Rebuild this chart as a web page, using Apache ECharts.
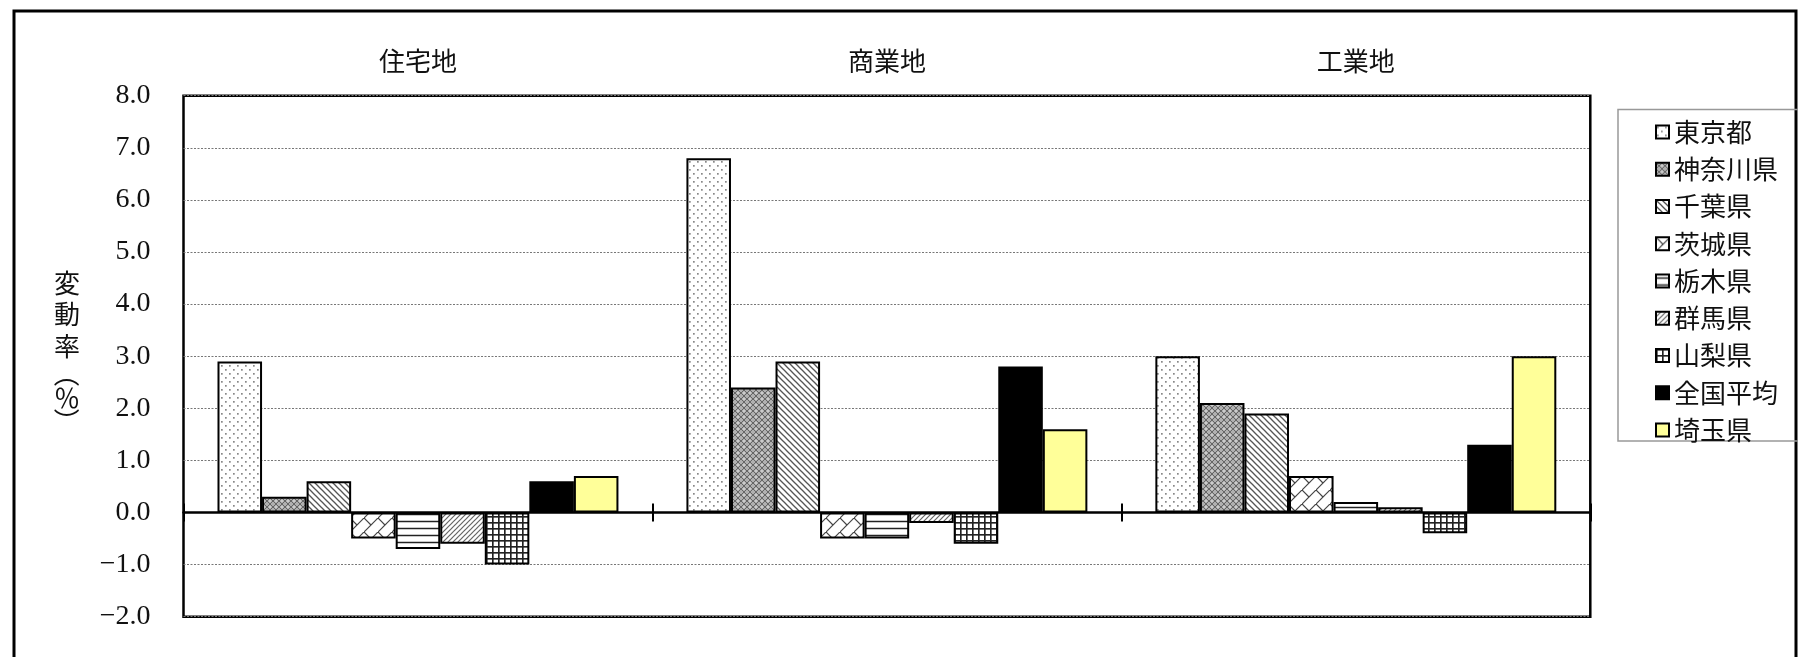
<!DOCTYPE html>
<html>
<head>
<meta charset="utf-8">
<script src="https://cdn.jsdelivr.net/npm/echarts@6/dist/echarts.min.js"></script>
<style>
html,body{margin:0;padding:0;background:#fff;}
#chart{width:1798px;height:657px;}
</style>
</head>
<body>
<div id="chart"></div>
<script>
// ---- data ----
const categories = ['住宅地', '商業地', '工業地'];
const seriesNames = ['東京都', '神奈川県', '千葉県', '茨城県', '栃木県', '群馬県', '山梨県', '全国平均', '埼玉県'];
const tokyo    = [2.9, 6.8, 3.0];
const kanagawa = [0.3, 2.4, 2.1];
const chiba    = [0.6, 2.9, 1.9];
const ibaraki  = [-0.5, -0.5, 0.7];
const tochigi  = [-0.7, -0.5, 0.2];
const gunma    = [-0.6, -0.2, 0.1];
const yamanashi= [-1.0, -0.6, -0.4];
const national = [0.6, 2.8, 1.3];
const saitama  = [0.7, 1.6, 3.0];
const yTickLabels = ['−2.0', '−1.0', '0.0', '1.0', '2.0', '3.0', '4.0', '5.0', '6.0', '7.0', '8.0'];

// ---- patterns ----
function pat(w, h, bg, draw) {
  const c = document.createElement('canvas');
  c.width = w; c.height = h;
  const g = c.getContext('2d');
  g.fillStyle = bg; g.fillRect(0, 0, w, h);
  draw(g, w, h);
  return { image: c, repeat: 'repeat' };
}
function line(g, x1, y1, x2, y2, col, lw) {
  g.strokeStyle = col; g.lineWidth = lw;
  g.beginPath(); g.moveTo(x1, y1); g.lineTo(x2, y2); g.stroke();
}
const pDots = pat(8, 8, '#fff', g => {
  g.fillStyle = '#888';
  g.fillRect(1, 1, 1.7, 1.7);
  g.fillRect(5, 5, 1.7, 1.7);
});
const pKana = pat(6, 6, '#b0b0b0', g => {
  line(g, 0, 0, 6, 6, '#666', 1);
  line(g, 0, 6, 6, 0, '#666', 1);
  g.fillStyle = '#e8e8e8';
  g.fillRect(0, 2.5, 1, 1); g.fillRect(5, 2.5, 1, 1);
});
const pChiba = pat(6, 6, '#fff', g => {
  line(g, -1, -1, 7, 7, '#555', 1.3);
  line(g, -1, 5, 1, 7, '#555', 1.3);
  line(g, 5, -1, 7, 1, '#555', 1.3);
});
const pIbaraki = pat(14, 14, '#fff', g => {
  line(g, -1, 15, 15, -1, '#444', 1.2);
  line(g, 0, 0, 7, 7, '#444', 1.2);
});
const pTochigi = pat(4, 7, '#fff', g => {
  line(g, 0, 3.5, 4, 3.5, '#222', 1.5);
});
const pGunma = pat(5, 5, '#fff', g => {
  line(g, -1, 6, 6, -1, '#666', 1.2);
  line(g, -1, 1, 1, -1, '#666', 1.2);
  line(g, 4, 6, 6, 4, '#666', 1.2);
});
const pYama = pat(6, 6, '#fff', g => {
  line(g, 0.75, 0, 0.75, 6, '#222', 1.8);
  line(g, 0, 0.75, 6, 0.75, '#222', 1.8);
});
const fills = [pDots, pKana, pChiba, pIbaraki, pTochigi, pGunma, pYama, '#000', '#FFFF99'];
const values = [tokyo, kanagawa, chiba, ibaraki, tochigi, gunma, yamanashi, national, saitama];

const chart = echarts.init(document.getElementById('chart'));
const jp = '"Noto Sans CJK JP", sans-serif';
const serif = '"Liberation Serif", "Noto Sans CJK JP", serif';

const series = seriesNames.map((n, i) => ({
  name: n,
  type: 'bar',
  xAxisIndex: 0,
  data: values[i],
  barGap: '0%',
  barCategoryGap: '14.5%',
  itemStyle: { color: fills[i], borderColor: '#000', borderWidth: 2 },
  emphasis: { disabled: true },
  animation: false
}));

function tTxt(text, x, y, rot) {
  return { type: 'text', silent: true, x: x, y: y, rotation: rot || 0,
    style: { text: text, font: '26px ' + jp, fill: '#111', align: 'center', verticalAlign: 'middle' } };
}

chart.setOption({
  animation: false,
  grid: {
    left: 183.5, top: 95.7, right: 207.7, bottom: 40.3,
    show: true, borderColor: '#000', borderWidth: 2.5, backgroundColor: 'transparent'
  },
  xAxis: [
    {
      type: 'category', data: categories, position: 'bottom',
      axisLine: { onZero: true, onZeroAxisIndex: 0, lineStyle: { color: '#000', width: 2.5 } },
      axisTick: { show: true, length: 9, inside: false, lineStyle: { color: '#000', width: 2 } },
      axisLabel: { show: false }, splitLine: { show: false }, z: 10
    },
    {
      type: 'category', data: categories, position: 'bottom',
      axisLine: { onZero: true, onZeroAxisIndex: 0, show: true, lineStyle: { color: 'rgba(0,0,0,0)', width: 0 } },
      axisTick: { show: true, length: 9, inside: true, lineStyle: { color: '#000', width: 2 } },
      axisLabel: { show: false }, splitLine: { show: false }, z: 10
    },
    {
      type: 'category', data: categories, position: 'top',
      axisLine: { show: false, onZero: false }, axisTick: { show: false },
      axisLabel: { show: true, margin: 22, fontSize: 26, lineHeight: 26, fontFamily: jp, color: '#111' },
      splitLine: { show: false }
    }
  ],
  yAxis: {
    type: 'value', min: -2, max: 8, interval: 1,
    axisLine: { show: false }, axisTick: { show: false },
    axisLabel: {
      margin: 33, fontSize: 28, fontFamily: serif, color: '#111',
      formatter: v => yTickLabels[Math.round(v) + 2]
    },
    splitLine: { show: true, lineStyle: { color: '#777', width: 1, type: [2, 1.5] } }
  },
  legend: {
    orient: 'vertical', left: 1650, top: 114,
    itemWidth: 13, itemHeight: 13, itemGap: 11.25,
    icon: 'rect',
    itemStyle: { borderColor: '#000', borderWidth: 2 },
    textStyle: { fontSize: 26, lineHeight: 26, fontFamily: jp, color: '#111' },
    data: seriesNames,
    selectedMode: false
  },
  graphic: [
    { type: 'rect', silent: true, z: -1,
      shape: { x: 14, y: 11, width: 1782, height: 720 },
      style: { fill: 'none', stroke: '#000', lineWidth: 3 } },
    { type: 'rect', silent: true, z: -1,
      shape: { x: 1618, y: 109.5, width: 220, height: 331.5 },
      style: { fill: 'none', stroke: '#999', lineWidth: 1.5 } },
    tTxt('変', 67, 283),
    tTxt('動', 67, 314),
    tTxt('率', 67, 346),
    tTxt('（', 67, 374, -Math.PI / 2),
    tTxt('％', 67, 398),
    tTxt('）', 67, 421, -Math.PI / 2)
  ],
  series: series
});
</script>
</body>
</html>
